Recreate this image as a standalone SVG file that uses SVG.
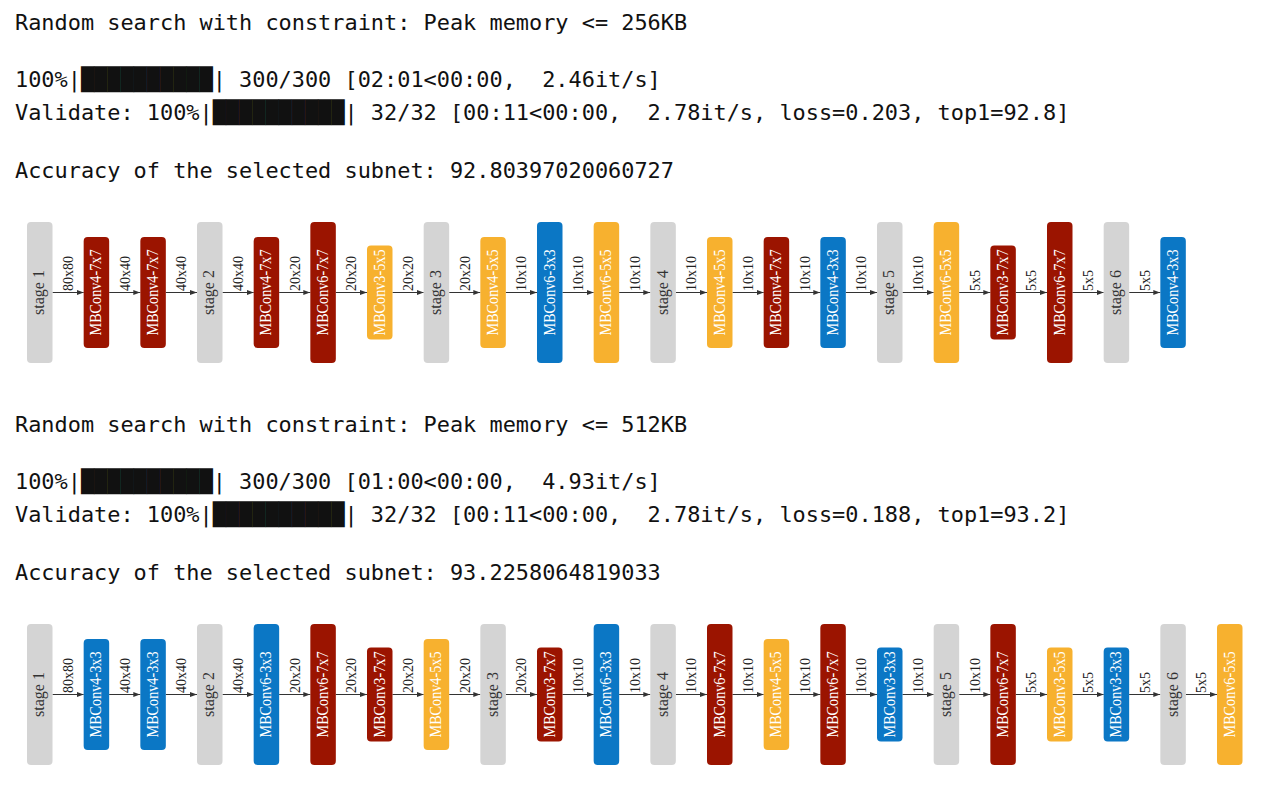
<svg xmlns="http://www.w3.org/2000/svg" width="1269" height="788" viewBox="0 0 1269 788">
<style>
.bg{fill:#fff}
.mono{font-family:"DejaVu Sans Mono","Liberation Mono",monospace;font-size:21.9px;fill:#111;white-space:pre}
.node rect{rx:4px;ry:4px}
.g{fill:#d4d4d4}.r{fill:#9b1400}.o{fill:#f7b12f}.b{fill:#0b77c5}
.sl{font-family:"Liberation Serif",serif;font-size:16px;fill:#333;text-anchor:middle}
.ml{font-family:"Liberation Serif",serif;font-size:16px;fill:#fff;text-anchor:middle}
.el{font-family:"Liberation Serif",serif;font-size:15px;fill:#222}
.edges line{stroke:#333;stroke-width:1;marker-end:url(#ah)}
</style>
<defs>
<marker id="ah" markerUnits="userSpaceOnUse" markerWidth="7" markerHeight="5" refX="7" refY="2.5" orient="auto"><path d="M0,0 L7,2.5 L0,5 z" fill="#333"/></marker>
</defs>
<rect class="bg" x="0" y="0" width="1269" height="788"/>
<g id="log-top">
<text class="mono" x="15" y="30" xml:space="preserve">Random search with constraint: Peak memory &lt;= 256KB</text>
<text class="mono" x="15" y="87" xml:space="preserve">100%|██████████| 300/300 [02:01&lt;00:00,  2.46it/s]</text>
<text class="mono" x="15" y="120" xml:space="preserve">Validate: 100%|██████████| 32/32 [00:11&lt;00:00,  2.78it/s, loss=0.203, top1=92.8]</text>
<text class="mono" x="15" y="178" xml:space="preserve">Accuracy of the selected subnet: 92.80397020060727</text>
</g>
<g id="log-bottom">
<text class="mono" x="15" y="432" xml:space="preserve">Random search with constraint: Peak memory &lt;= 512KB</text>
<text class="mono" x="15" y="489" xml:space="preserve">100%|██████████| 300/300 [01:00&lt;00:00,  4.93it/s]</text>
<text class="mono" x="15" y="522" xml:space="preserve">Validate: 100%|██████████| 32/32 [00:11&lt;00:00,  2.78it/s, loss=0.188, top1=93.2]</text>
<text class="mono" x="15" y="580" xml:space="preserve">Accuracy of the selected subnet: 93.2258064819033</text>
</g>

<g id="edges-top" class="edges">
<line x1="52.5" y1="292.5" x2="83.67" y2="292.5"/>
<line x1="109.17" y1="292.5" x2="140.33" y2="292.5"/>
<line x1="165.83" y1="292.5" x2="197" y2="292.5"/>
<line x1="222.5" y1="292.5" x2="253.67" y2="292.5"/>
<line x1="279.17" y1="292.5" x2="310.33" y2="292.5"/>
<line x1="335.83" y1="292.5" x2="367" y2="292.5"/>
<line x1="392.5" y1="292.5" x2="423.67" y2="292.5"/>
<line x1="449.17" y1="292.5" x2="480.33" y2="292.5"/>
<line x1="505.83" y1="292.5" x2="537" y2="292.5"/>
<line x1="562.5" y1="292.5" x2="593.67" y2="292.5"/>
<line x1="619.17" y1="292.5" x2="650.33" y2="292.5"/>
<line x1="675.83" y1="292.5" x2="707" y2="292.5"/>
<line x1="732.5" y1="292.5" x2="763.67" y2="292.5"/>
<line x1="789.17" y1="292.5" x2="820.33" y2="292.5"/>
<line x1="845.83" y1="292.5" x2="877" y2="292.5"/>
<line x1="902.5" y1="292.5" x2="933.67" y2="292.5"/>
<line x1="959.17" y1="292.5" x2="990.33" y2="292.5"/>
<line x1="1015.83" y1="292.5" x2="1047" y2="292.5"/>
<line x1="1072.5" y1="292.5" x2="1103.67" y2="292.5"/>
<line x1="1129.17" y1="292.5" x2="1160.33" y2="292.5"/>
<text class="el" textLength="35" lengthAdjust="spacingAndGlyphs" transform="translate(73,291) rotate(-90)">80x80</text>
<text class="el" textLength="35" lengthAdjust="spacingAndGlyphs" transform="translate(129.67,291) rotate(-90)">40x40</text>
<text class="el" textLength="35" lengthAdjust="spacingAndGlyphs" transform="translate(186.33,291) rotate(-90)">40x40</text>
<text class="el" textLength="35" lengthAdjust="spacingAndGlyphs" transform="translate(243,291) rotate(-90)">40x40</text>
<text class="el" textLength="35" lengthAdjust="spacingAndGlyphs" transform="translate(299.67,291) rotate(-90)">20x20</text>
<text class="el" textLength="35" lengthAdjust="spacingAndGlyphs" transform="translate(356.33,291) rotate(-90)">20x20</text>
<text class="el" textLength="35" lengthAdjust="spacingAndGlyphs" transform="translate(413,291) rotate(-90)">20x20</text>
<text class="el" textLength="35" lengthAdjust="spacingAndGlyphs" transform="translate(469.67,291) rotate(-90)">20x20</text>
<text class="el" textLength="35" lengthAdjust="spacingAndGlyphs" transform="translate(526.33,291) rotate(-90)">10x10</text>
<text class="el" textLength="35" lengthAdjust="spacingAndGlyphs" transform="translate(583,291) rotate(-90)">10x10</text>
<text class="el" textLength="35" lengthAdjust="spacingAndGlyphs" transform="translate(639.67,291) rotate(-90)">10x10</text>
<text class="el" textLength="35" lengthAdjust="spacingAndGlyphs" transform="translate(696.33,291) rotate(-90)">10x10</text>
<text class="el" textLength="35" lengthAdjust="spacingAndGlyphs" transform="translate(753,291) rotate(-90)">10x10</text>
<text class="el" textLength="35" lengthAdjust="spacingAndGlyphs" transform="translate(809.67,291) rotate(-90)">10x10</text>
<text class="el" textLength="35" lengthAdjust="spacingAndGlyphs" transform="translate(866.33,291) rotate(-90)">10x10</text>
<text class="el" textLength="35" lengthAdjust="spacingAndGlyphs" transform="translate(923,291) rotate(-90)">10x10</text>
<text class="el" textLength="21" lengthAdjust="spacingAndGlyphs" transform="translate(979.67,291) rotate(-90)">5x5</text>
<text class="el" textLength="21" lengthAdjust="spacingAndGlyphs" transform="translate(1036.33,291) rotate(-90)">5x5</text>
<text class="el" textLength="21" lengthAdjust="spacingAndGlyphs" transform="translate(1093,291) rotate(-90)">5x5</text>
<text class="el" textLength="21" lengthAdjust="spacingAndGlyphs" transform="translate(1149.67,291) rotate(-90)">5x5</text>
</g>

<g id="t0" class="node"><rect class="g" x="27" y="222" width="25.5" height="141"/><text class="sl" transform="translate(44.25,292.5) rotate(-90)">stage 1</text></g>
<g id="t1" class="node"><rect class="r" x="83.67" y="237" width="25.5" height="111"/><text class="ml" textLength="86" lengthAdjust="spacingAndGlyphs" transform="translate(101.42,292.5) rotate(-90)">MBConv4-7x7</text></g>
<g id="t2" class="node"><rect class="r" x="140.33" y="237" width="25.5" height="111"/><text class="ml" textLength="86" lengthAdjust="spacingAndGlyphs" transform="translate(158.08,292.5) rotate(-90)">MBConv4-7x7</text></g>
<g id="t3" class="node"><rect class="g" x="197" y="222" width="25.5" height="141"/><text class="sl" transform="translate(214.25,292.5) rotate(-90)">stage 2</text></g>
<g id="t4" class="node"><rect class="r" x="253.67" y="237" width="25.5" height="111"/><text class="ml" textLength="86" lengthAdjust="spacingAndGlyphs" transform="translate(271.42,292.5) rotate(-90)">MBConv4-7x7</text></g>
<g id="t5" class="node"><rect class="r" x="310.33" y="222" width="25.5" height="141"/><text class="ml" textLength="86" lengthAdjust="spacingAndGlyphs" transform="translate(328.08,292.5) rotate(-90)">MBConv6-7x7</text></g>
<g id="t6" class="node"><rect class="o" x="367" y="245.5" width="25.5" height="94"/><text class="ml" textLength="86" lengthAdjust="spacingAndGlyphs" transform="translate(384.75,292.5) rotate(-90)">MBConv3-5x5</text></g>
<g id="t7" class="node"><rect class="g" x="423.67" y="222" width="25.5" height="141"/><text class="sl" transform="translate(440.92,292.5) rotate(-90)">stage 3</text></g>
<g id="t8" class="node"><rect class="o" x="480.33" y="237" width="25.5" height="111"/><text class="ml" textLength="86" lengthAdjust="spacingAndGlyphs" transform="translate(498.08,292.5) rotate(-90)">MBConv4-5x5</text></g>
<g id="t9" class="node"><rect class="b" x="537" y="222" width="25.5" height="141"/><text class="ml" textLength="86" lengthAdjust="spacingAndGlyphs" transform="translate(554.75,292.5) rotate(-90)">MBConv6-3x3</text></g>
<g id="t10" class="node"><rect class="o" x="593.67" y="222" width="25.5" height="141"/><text class="ml" textLength="86" lengthAdjust="spacingAndGlyphs" transform="translate(611.42,292.5) rotate(-90)">MBConv6-5x5</text></g>
<g id="t11" class="node"><rect class="g" x="650.33" y="222" width="25.5" height="141"/><text class="sl" transform="translate(667.58,292.5) rotate(-90)">stage 4</text></g>
<g id="t12" class="node"><rect class="o" x="707" y="237" width="25.5" height="111"/><text class="ml" textLength="86" lengthAdjust="spacingAndGlyphs" transform="translate(724.75,292.5) rotate(-90)">MBConv4-5x5</text></g>
<g id="t13" class="node"><rect class="r" x="763.67" y="237" width="25.5" height="111"/><text class="ml" textLength="86" lengthAdjust="spacingAndGlyphs" transform="translate(781.42,292.5) rotate(-90)">MBConv4-7x7</text></g>
<g id="t14" class="node"><rect class="b" x="820.33" y="237" width="25.5" height="111"/><text class="ml" textLength="86" lengthAdjust="spacingAndGlyphs" transform="translate(838.08,292.5) rotate(-90)">MBConv4-3x3</text></g>
<g id="t15" class="node"><rect class="g" x="877" y="222" width="25.5" height="141"/><text class="sl" transform="translate(894.25,292.5) rotate(-90)">stage 5</text></g>
<g id="t16" class="node"><rect class="o" x="933.67" y="222" width="25.5" height="141"/><text class="ml" textLength="86" lengthAdjust="spacingAndGlyphs" transform="translate(951.42,292.5) rotate(-90)">MBConv6-5x5</text></g>
<g id="t17" class="node"><rect class="r" x="990.33" y="245.5" width="25.5" height="94"/><text class="ml" textLength="86" lengthAdjust="spacingAndGlyphs" transform="translate(1008.08,292.5) rotate(-90)">MBConv3-7x7</text></g>
<g id="t18" class="node"><rect class="r" x="1047" y="222" width="25.5" height="141"/><text class="ml" textLength="86" lengthAdjust="spacingAndGlyphs" transform="translate(1064.75,292.5) rotate(-90)">MBConv6-7x7</text></g>
<g id="t19" class="node"><rect class="g" x="1103.67" y="222" width="25.5" height="141"/><text class="sl" transform="translate(1120.92,292.5) rotate(-90)">stage 6</text></g>
<g id="t20" class="node"><rect class="b" x="1160.33" y="237" width="25.5" height="111"/><text class="ml" textLength="86" lengthAdjust="spacingAndGlyphs" transform="translate(1178.08,292.5) rotate(-90)">MBConv4-3x3</text></g>

<g id="edges-bottom" class="edges">
<line x1="52.5" y1="694.5" x2="83.67" y2="694.5"/>
<line x1="109.17" y1="694.5" x2="140.33" y2="694.5"/>
<line x1="165.83" y1="694.5" x2="197" y2="694.5"/>
<line x1="222.5" y1="694.5" x2="253.67" y2="694.5"/>
<line x1="279.17" y1="694.5" x2="310.33" y2="694.5"/>
<line x1="335.83" y1="694.5" x2="367" y2="694.5"/>
<line x1="392.5" y1="694.5" x2="423.67" y2="694.5"/>
<line x1="449.17" y1="694.5" x2="480.33" y2="694.5"/>
<line x1="505.83" y1="694.5" x2="537" y2="694.5"/>
<line x1="562.5" y1="694.5" x2="593.67" y2="694.5"/>
<line x1="619.17" y1="694.5" x2="650.33" y2="694.5"/>
<line x1="675.83" y1="694.5" x2="707" y2="694.5"/>
<line x1="732.5" y1="694.5" x2="763.67" y2="694.5"/>
<line x1="789.17" y1="694.5" x2="820.33" y2="694.5"/>
<line x1="845.83" y1="694.5" x2="877" y2="694.5"/>
<line x1="902.5" y1="694.5" x2="933.67" y2="694.5"/>
<line x1="959.17" y1="694.5" x2="990.33" y2="694.5"/>
<line x1="1015.83" y1="694.5" x2="1047" y2="694.5"/>
<line x1="1072.5" y1="694.5" x2="1103.67" y2="694.5"/>
<line x1="1129.17" y1="694.5" x2="1160.33" y2="694.5"/>
<line x1="1185.83" y1="694.5" x2="1217" y2="694.5"/>
<text class="el" textLength="35" lengthAdjust="spacingAndGlyphs" transform="translate(73,693) rotate(-90)">80x80</text>
<text class="el" textLength="35" lengthAdjust="spacingAndGlyphs" transform="translate(129.67,693) rotate(-90)">40x40</text>
<text class="el" textLength="35" lengthAdjust="spacingAndGlyphs" transform="translate(186.33,693) rotate(-90)">40x40</text>
<text class="el" textLength="35" lengthAdjust="spacingAndGlyphs" transform="translate(243,693) rotate(-90)">40x40</text>
<text class="el" textLength="35" lengthAdjust="spacingAndGlyphs" transform="translate(299.67,693) rotate(-90)">20x20</text>
<text class="el" textLength="35" lengthAdjust="spacingAndGlyphs" transform="translate(356.33,693) rotate(-90)">20x20</text>
<text class="el" textLength="35" lengthAdjust="spacingAndGlyphs" transform="translate(413,693) rotate(-90)">20x20</text>
<text class="el" textLength="35" lengthAdjust="spacingAndGlyphs" transform="translate(469.67,693) rotate(-90)">20x20</text>
<text class="el" textLength="35" lengthAdjust="spacingAndGlyphs" transform="translate(526.33,693) rotate(-90)">20x20</text>
<text class="el" textLength="35" lengthAdjust="spacingAndGlyphs" transform="translate(583,693) rotate(-90)">10x10</text>
<text class="el" textLength="35" lengthAdjust="spacingAndGlyphs" transform="translate(639.67,693) rotate(-90)">10x10</text>
<text class="el" textLength="35" lengthAdjust="spacingAndGlyphs" transform="translate(696.33,693) rotate(-90)">10x10</text>
<text class="el" textLength="35" lengthAdjust="spacingAndGlyphs" transform="translate(753,693) rotate(-90)">10x10</text>
<text class="el" textLength="35" lengthAdjust="spacingAndGlyphs" transform="translate(809.67,693) rotate(-90)">10x10</text>
<text class="el" textLength="35" lengthAdjust="spacingAndGlyphs" transform="translate(866.33,693) rotate(-90)">10x10</text>
<text class="el" textLength="35" lengthAdjust="spacingAndGlyphs" transform="translate(923,693) rotate(-90)">10x10</text>
<text class="el" textLength="35" lengthAdjust="spacingAndGlyphs" transform="translate(979.67,693) rotate(-90)">10x10</text>
<text class="el" textLength="21" lengthAdjust="spacingAndGlyphs" transform="translate(1036.33,693) rotate(-90)">5x5</text>
<text class="el" textLength="21" lengthAdjust="spacingAndGlyphs" transform="translate(1093,693) rotate(-90)">5x5</text>
<text class="el" textLength="21" lengthAdjust="spacingAndGlyphs" transform="translate(1149.67,693) rotate(-90)">5x5</text>
<text class="el" textLength="21" lengthAdjust="spacingAndGlyphs" transform="translate(1206.33,693) rotate(-90)">5x5</text>
</g>

<g id="b0" class="node"><rect class="g" x="27" y="624" width="25.5" height="141"/><text class="sl" transform="translate(44.25,694.5) rotate(-90)">stage 1</text></g>
<g id="b1" class="node"><rect class="b" x="83.67" y="639" width="25.5" height="111"/><text class="ml" textLength="86" lengthAdjust="spacingAndGlyphs" transform="translate(101.42,694.5) rotate(-90)">MBConv4-3x3</text></g>
<g id="b2" class="node"><rect class="b" x="140.33" y="639" width="25.5" height="111"/><text class="ml" textLength="86" lengthAdjust="spacingAndGlyphs" transform="translate(158.08,694.5) rotate(-90)">MBConv4-3x3</text></g>
<g id="b3" class="node"><rect class="g" x="197" y="624" width="25.5" height="141"/><text class="sl" transform="translate(214.25,694.5) rotate(-90)">stage 2</text></g>
<g id="b4" class="node"><rect class="b" x="253.67" y="624" width="25.5" height="141"/><text class="ml" textLength="86" lengthAdjust="spacingAndGlyphs" transform="translate(271.42,694.5) rotate(-90)">MBConv6-3x3</text></g>
<g id="b5" class="node"><rect class="r" x="310.33" y="624" width="25.5" height="141"/><text class="ml" textLength="86" lengthAdjust="spacingAndGlyphs" transform="translate(328.08,694.5) rotate(-90)">MBConv6-7x7</text></g>
<g id="b6" class="node"><rect class="r" x="367" y="647.5" width="25.5" height="94"/><text class="ml" textLength="86" lengthAdjust="spacingAndGlyphs" transform="translate(384.75,694.5) rotate(-90)">MBConv3-7x7</text></g>
<g id="b7" class="node"><rect class="o" x="423.67" y="639" width="25.5" height="111"/><text class="ml" textLength="86" lengthAdjust="spacingAndGlyphs" transform="translate(441.42,694.5) rotate(-90)">MBConv4-5x5</text></g>
<g id="b8" class="node"><rect class="g" x="480.33" y="624" width="25.5" height="141"/><text class="sl" transform="translate(497.58,694.5) rotate(-90)">stage 3</text></g>
<g id="b9" class="node"><rect class="r" x="537" y="647.5" width="25.5" height="94"/><text class="ml" textLength="86" lengthAdjust="spacingAndGlyphs" transform="translate(554.75,694.5) rotate(-90)">MBConv3-7x7</text></g>
<g id="b10" class="node"><rect class="b" x="593.67" y="624" width="25.5" height="141"/><text class="ml" textLength="86" lengthAdjust="spacingAndGlyphs" transform="translate(611.42,694.5) rotate(-90)">MBConv6-3x3</text></g>
<g id="b11" class="node"><rect class="g" x="650.33" y="624" width="25.5" height="141"/><text class="sl" transform="translate(667.58,694.5) rotate(-90)">stage 4</text></g>
<g id="b12" class="node"><rect class="r" x="707" y="624" width="25.5" height="141"/><text class="ml" textLength="86" lengthAdjust="spacingAndGlyphs" transform="translate(724.75,694.5) rotate(-90)">MBConv6-7x7</text></g>
<g id="b13" class="node"><rect class="o" x="763.67" y="639" width="25.5" height="111"/><text class="ml" textLength="86" lengthAdjust="spacingAndGlyphs" transform="translate(781.42,694.5) rotate(-90)">MBConv4-5x5</text></g>
<g id="b14" class="node"><rect class="r" x="820.33" y="624" width="25.5" height="141"/><text class="ml" textLength="86" lengthAdjust="spacingAndGlyphs" transform="translate(838.08,694.5) rotate(-90)">MBConv6-7x7</text></g>
<g id="b15" class="node"><rect class="b" x="877" y="647.5" width="25.5" height="94"/><text class="ml" textLength="86" lengthAdjust="spacingAndGlyphs" transform="translate(894.75,694.5) rotate(-90)">MBConv3-3x3</text></g>
<g id="b16" class="node"><rect class="g" x="933.67" y="624" width="25.5" height="141"/><text class="sl" transform="translate(950.92,694.5) rotate(-90)">stage 5</text></g>
<g id="b17" class="node"><rect class="r" x="990.33" y="624" width="25.5" height="141"/><text class="ml" textLength="86" lengthAdjust="spacingAndGlyphs" transform="translate(1008.08,694.5) rotate(-90)">MBConv6-7x7</text></g>
<g id="b18" class="node"><rect class="o" x="1047" y="647.5" width="25.5" height="94"/><text class="ml" textLength="86" lengthAdjust="spacingAndGlyphs" transform="translate(1064.75,694.5) rotate(-90)">MBConv3-5x5</text></g>
<g id="b19" class="node"><rect class="b" x="1103.67" y="647.5" width="25.5" height="94"/><text class="ml" textLength="86" lengthAdjust="spacingAndGlyphs" transform="translate(1121.42,694.5) rotate(-90)">MBConv3-3x3</text></g>
<g id="b20" class="node"><rect class="g" x="1160.33" y="624" width="25.5" height="141"/><text class="sl" transform="translate(1177.58,694.5) rotate(-90)">stage 6</text></g>
<g id="b21" class="node"><rect class="o" x="1217" y="624" width="25.5" height="141"/><text class="ml" textLength="86" lengthAdjust="spacingAndGlyphs" transform="translate(1234.75,694.5) rotate(-90)">MBConv6-5x5</text></g>
</svg>
